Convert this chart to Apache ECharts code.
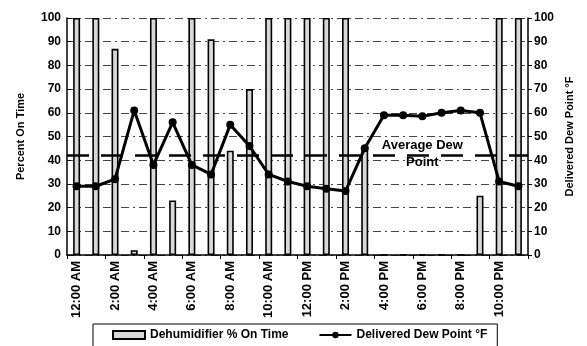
<!DOCTYPE html>
<html><head><meta charset="utf-8">
<script src="https://cdn.jsdelivr.net/npm/echarts@6/dist/echarts.min.js"></script>
<style>html,body{margin:0;padding:0;background:#fff}#c{width:587px;height:346px}</style>
</head><body><div id="c"></div>
<script>
var categories = ['12:00 AM','1:00 AM','2:00 AM','3:00 AM','4:00 AM','5:00 AM','6:00 AM','7:00 AM','8:00 AM','9:00 AM','10:00 AM','11:00 AM','12:00 PM','1:00 PM','2:00 PM','3:00 PM','4:00 PM','5:00 PM','6:00 PM','7:00 PM','8:00 PM','9:00 PM','10:00 PM','11:00 PM'];
var onTime = [100,100,87,2,100,23,100,91,44,70,100,100,100,100,100,46,0,0,0,0,0,25,100,100];
var dewPoint = [29,29,32,61,38,56,38,34,55,46,34,31,29,28,27,45,59,59,58.5,60,61,60,31,29];
var avgDew = 42;

var font = 'Liberation Sans, Arial, sans-serif';
var chart = echarts.init(document.getElementById('c'));
chart.setOption({
  animation:false,
  textStyle:{fontFamily:font},
  grid:{left:67,right:59,top:18,bottom:91},
  legend:{
    top:324,left:93,width:410,
    itemGap:30,padding:[5,10,8,19],
    borderColor:'#000',borderWidth:1,
    itemWidth:32,itemHeight:8,
    textStyle:{fontFamily:font,fontSize:12,fontWeight:'bold',color:'#000'},
    data:[{name:'Dehumidifier % On Time',icon:'rect'},{name:'Delivered Dew Point °F'}]
  },
  xAxis:{
    type:'category',data:categories,
    axisLine:{lineStyle:{color:'#000',width:1.5}},
    axisTick:{show:true,lineStyle:{color:'#000'},length:4},
    axisLabel:{rotate:90,interval:1,color:'#000',fontSize:13,fontWeight:'bold',fontFamily:font,margin:6}
  },
  yAxis:[{
    type:'value',min:0,max:100,interval:10,
    name:'Percent On Time',nameLocation:'middle',nameGap:41,nameRotate:90,
    nameTextStyle:{color:'#000',fontSize:11,fontWeight:'bold',fontFamily:font},
    axisLine:{show:true,lineStyle:{color:'#000',width:1.5}},
    axisTick:{show:true,inside:true,length:4,lineStyle:{color:'#000'}},
    axisLabel:{color:'#000',fontSize:12,fontWeight:'bold',fontFamily:font,margin:6},
    splitLine:{show:true,lineStyle:{color:'#444',type:[8,4,2,4],width:1}}
  },{
    type:'value',min:0,max:100,interval:10,position:'right',
    name:'Delivered Dew Point °F',nameLocation:'middle',nameGap:36,nameRotate:90,
    nameTextStyle:{color:'#000',fontSize:11,fontWeight:'bold',fontFamily:font},
    axisLine:{show:true,lineStyle:{color:'#000',width:1.5}},
    axisTick:{show:true,length:4,lineStyle:{color:'#000'}},
    axisLabel:{color:'#000',fontSize:12,fontWeight:'bold',fontFamily:font,margin:6},
    splitLine:{show:false}
  }],
  series:[{
    name:'Dehumidifier % On Time',type:'bar',data:onTime,barWidth:7,
    itemStyle:{color:'#d8d8d8',borderColor:'#000',borderWidth:1.6}
  },{
    name:'Delivered Dew Point °F',type:'line',yAxisIndex:1,data:dewPoint,
    symbol:'circle',symbolSize:8,
    lineStyle:{color:'#000',width:3},itemStyle:{color:'#000'},
    markLine:{
      silent:true,symbol:'none',
      lineStyle:{color:'#000',width:2.5,type:[22,12]},
      label:{show:false},
      data:[{yAxis:avgDew}]
    },
    markPoint:{
      silent:true,symbol:'rect',symbolSize:[1,1],itemStyle:{color:'rgba(0,0,0,0)'},
      label:{show:true,position:'inside',formatter:'Average Dew\nPoint',color:'#000',fontSize:13,fontWeight:'bold',fontFamily:font,lineHeight:17},
      data:[{coord:[18.2,42.8]}]
    }
  }]
});
</script></body></html>
